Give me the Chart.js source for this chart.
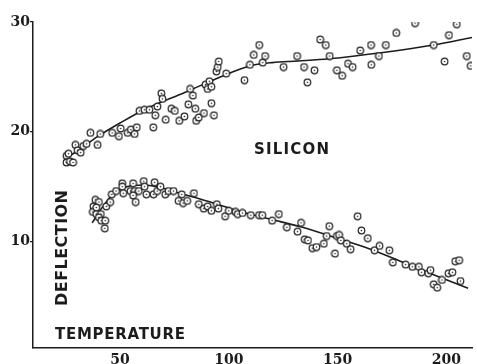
<!DOCTYPE html>
<html>
<head>
<meta charset="utf-8">
<script src="https://cdn.jsdelivr.net/npm/chart.js@4"></script>
<style>
  html, body { margin: 0; padding: 0; background: #fff; }
</style>
</head>
<body>
<canvas id="chart" width="477" height="364"></canvas>
<script>
// silicon readings (upper cloud)
const siliconTemp = [25.4,26.3,25.4,27.0,28.4,29.5,30.5,31.9,33.1,34.6,36.4,39.7,40.9,46.4,49.5,50.3,53.5,55.0,56.7,57.7,
  58.9,61.2,63.5,65.3,66.2,67.2,69.0,69.5,71.0,73.6,75.2,77.2,79.6,81.4,82.2,83.5,84.6,85.0,86.2,88.6,
  89.3,90.3,91.1,92.0,92.0,93.2,94.3,94.9,95.4,98.8,107.2,109.7,111.5,114.0,115.6,116.7,125.2,131.4,134.6,136.1,
  139.4,142.0,144.6,146.4,149.7,152.1,154.8,156.9,160.4,165.4,165.5,169.0,172.2,177.0,185.6,194.2,199.2,201.2,204.8,209.4,211.2];
const siliconDefl = [17.8,18.0,17.2,17.3,17.2,18.8,18.3,18.1,18.7,18.9,19.9,18.8,19.8,19.9,19.6,20.3,19.9,20.2,19.8,20.4,
  21.9,22.0,22.0,20.4,21.5,22.3,23.5,23.0,21.1,22.1,21.9,21.0,21.4,22.5,23.9,23.3,22.1,21.0,21.3,21.7,
  24.3,23.9,24.6,24.1,22.6,21.5,25.5,25.9,26.4,25.3,24.7,26.1,27.0,27.9,26.3,26.9,25.9,26.9,25.9,24.5,
  25.6,28.4,27.9,26.9,25.6,25.1,26.2,25.9,27.4,27.9,26.1,26.9,27.9,29.0,29.9,27.9,26.4,28.8,29.8,26.9,26.0];

// lower cloud
const lowerTemp = [37.8,38.7,40.3,37.5,39.1,39.1,41.2,40.3,41.4,43.2,43.0,43.7,45.5,46.2,48.2,51.0,51.0,51.5,54.8,56.0,
  56.8,58.6,56.0,57.2,60.9,61.3,62.1,65.9,65.4,67.1,68.6,70.8,72.3,74.6,78.4,76.9,79.0,80.9,84.0,86.2,88.5,90.3,
  92.0,94.5,95.2,98.3,100.0,103.1,104.1,106.3,110.1,113.9,115.4,119.9,123.0,126.7,131.6,133.2,134.9,136.4,138.4,140.3,
  143.7,145.0,146.2,148.8,149.7,150.7,151.5,
  159.2,161.0,163.9,154.2,156.0,167.0,169.3,173.8,175.4,181.3,184.4,187.4,188.6,191.7,192.7,194.2,195.8,198.0,201.0,202.8,204.1,205.9,206.5];
const lowerDefl = [13.2,13.8,13.6,12.7,13.1,12.5,12.5,12.2,11.9,11.9,11.2,13.2,13.6,14.3,14.6,15.3,15.0,14.4,14.6,15.3,
  14.6,14.6,14.2,13.6,15.5,15.0,14.3,15.4,14.3,14.6,15.0,14.3,14.6,14.6,14.3,13.7,13.5,13.7,14.4,13.4,13.0,13.2,
  12.8,13.4,13.0,12.3,12.8,12.7,12.5,12.6,12.4,12.4,12.4,11.9,12.5,11.3,10.9,11.7,10.2,10.1,9.4,9.5,
  9.8,10.5,11.4,8.9,10.5,10.6,10.1,
  12.3,11.0,10.3,9.8,9.3,9.2,9.6,9.2,8.1,7.9,7.7,7.7,7.2,7.1,7.4,6.1,5.8,6.5,7.1,7.2,8.2,8.3,6.4];

// hand-drawn fit curves
const siliconFitTemp = [25.5,30,40,50,62,80,95,105,112,120,132,146,170,194,212];
const siliconFitDefl = [17.6,18.2,19.6,20.8,22.1,23.6,24.9,25.7,26.1,26.3,26.45,26.65,27.2,27.9,28.6];
const lowerFitTemp = [37.2,42.4,47,53,60.6,68,77,90.8,103.6,118.7,133.8,149,164.8,180,195,210];
const lowerFitDefl = [11.7,13.27,14.34,15.0,15.15,14.94,14.43,13.64,12.82,12.06,11.3,10.35,9.33,8.12,6.91,5.75];

const xTicks = [50, 100, 150, 200];
const yTicks = [10, 20, 30];

const ink = '#1c1c1c';

function pairs(xs, ys) {
  return xs.map((x, i) => ({x: x, y: ys[i]}));
}

// little ring with a dot in the middle
function ringDot() {
  const c = document.createElement('canvas');
  c.width = 9; c.height = 9;
  const g = c.getContext('2d');
  g.fillStyle = '#fff';
  g.strokeStyle = '#222';
  g.lineWidth = 1.2;
  g.beginPath(); g.arc(4.5, 4.5, 3.3, 0, Math.PI * 2); g.fill(); g.stroke();
  g.fillStyle = '#222';
  g.beginPath(); g.arc(4.5, 4.5, 0.8, 0, Math.PI * 2); g.fill();
  return c;
}
const marker = ringDot();

function spaced(ctx, text, x, y, width) {
  ctx.letterSpacing = '0px';
  const w = ctx.measureText(text).width;
  ctx.letterSpacing = ((width - w) / (text.length - 1)) + 'px';
  ctx.fillText(text, x, y);
  ctx.letterSpacing = '0px';
}

const labelsPlugin = {
  id: 'labels',
  afterDraw(chart) {
    const ctx = chart.ctx;
    ctx.save();
    ctx.fillStyle = ink;
    ctx.textAlign = 'left';
    ctx.textBaseline = 'alphabetic';
    ctx.font = 'bold 15px "DejaVu Sans"';
    spaced(ctx, 'SILICON', 254, 154, 75);
    spaced(ctx, 'TEMPERATURE', 55, 339, 130);
    ctx.font = 'bold 16px "DejaVu Sans"';
    ctx.translate(67, 306);
    ctx.rotate(-Math.PI / 2);
    spaced(ctx, 'DEFLECTION', 0, 0, 116);
    ctx.restore();
  }
};

new Chart(document.getElementById('chart'), {
  type: 'scatter',
  data: {
    datasets: [
      {
        label: 'silicon',
        data: pairs(siliconTemp, siliconDefl),
        pointStyle: marker,
        order: 1
      },
      {
        label: 'lower',
        data: pairs(lowerTemp, lowerDefl),
        pointStyle: marker,
        order: 1
      },
      {
        label: 'silicon fit',
        data: pairs(siliconFitTemp, siliconFitDefl),
        showLine: true,
        pointRadius: 0,
        borderColor: ink,
        borderWidth: 1.6,
        cubicInterpolationMode: 'monotone',
        order: 2
      },
      {
        label: 'lower fit',
        data: pairs(lowerFitTemp, lowerFitDefl),
        showLine: true,
        pointRadius: 0,
        borderColor: ink,
        borderWidth: 1.6,
        cubicInterpolationMode: 'monotone',
        order: 2
      }
    ]
  },
  options: {
    responsive: false,
    animation: false,
    layout: { padding: { top: 22, right: 0, left: 0, bottom: 0 } },
    plugins: {
      legend: { display: false },
      tooltip: { enabled: false }
    },
    scales: {
      x: {
        type: 'linear',
        min: 10,
        max: 211.8,
        afterFit: s => { s.height = 16; },
        afterBuildTicks: s => { s.ticks = xTicks.map(v => ({value: v})); },
        grid: { display: false },
        border: { display: true, color: ink, width: 1.5 },
        ticks: {
          color: ink,
          padding: -4,
          maxRotation: 0,
          font: { family: '"DejaVu Serif"', size: 14, weight: 'bold' }
        }
      },
      y: {
        min: 0.3,
        max: 30,
        afterFit: s => { s.width = 33; },
        afterBuildTicks: s => { s.ticks = yTicks.map(v => ({value: v})); },
        grid: { display: true, drawOnChartArea: false, drawTicks: true, tickLength: 3, color: ink, lineWidth: 1.2 },
        border: { display: true, color: ink, width: 1.5 },
        ticks: {
          color: ink,
          padding: 0,
          font: { family: '"DejaVu Serif"', size: 14, weight: 'bold' }
        }
      }
    }
  },
  plugins: [labelsPlugin]
});
</script>
</body>
</html>
